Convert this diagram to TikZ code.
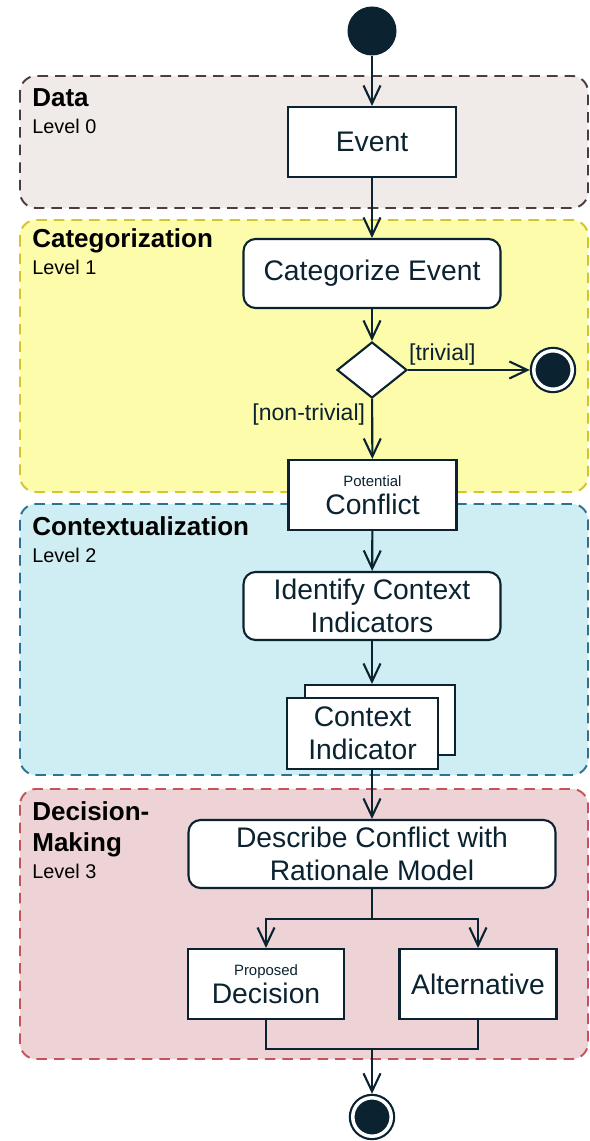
\documentclass[tikz,border=0pt]{standalone}
\usepackage{fontspec}
\setmainfont{Liberation Sans}
\usepackage{tikz}
\usetikzlibrary{arrows.meta,shapes.geometric,positioning}
\definecolor{ink}{HTML}{0B2330}
\definecolor{datab}{HTML}{4D3B3E}
\definecolor{dataf}{HTML}{F0EBE8}
\definecolor{catb}{HTML}{D4C52C}
\definecolor{catf}{HTML}{FCFCAB}
\definecolor{ctxb}{HTML}{2B7391}
\definecolor{ctxf}{HTML}{CFEEF3}
\definecolor{decb}{HTML}{C5535D}
\definecolor{decf}{HTML}{EDD3D5}
\newcommand\bigtxt{\fontsize{16.1pt}{18.7pt}\selectfont}
\newcommand\smalltxt{\fontsize{8.5pt}{10pt}\selectfont}
\newcommand\headtxt{\fontsize{14.8pt}{17.6pt}\selectfont\bfseries}
\newcommand\leveltxt{\fontsize{11.3pt}{13pt}\selectfont}
\newcommand\guardtxt{\fontsize{13.1pt}{15pt}\selectfont}

\begin{document}
\begin{tikzpicture}[x=0.02cm,y=-0.02cm,
  >={Straight Barb[length=3.6mm,width=3.4mm]},
  lane/.style={rounded corners=0.32cm,dash pattern=on 6pt off 4pt,line width=1.1pt},
  lanehead/.style={anchor=base west,inner sep=0,font=\headtxt},
  lanelevel/.style={anchor=base west,inner sep=0,font=\leveltxt},
  box/.style={draw=ink,fill=white,line width=1.2pt,align=center,text=ink,font=\bigtxt,inner sep=2pt,minimum height=1.38cm},
  action/.style={box,rounded corners=0.24cm,minimum width=5.14cm},
  object/.style={box,minimum width=3.36cm},
  flow/.style={draw=ink,line width=1.2pt},
  guard/.style={text=ink,font=\guardtxt,inner sep=2pt},
  endstate/.style={circle,draw=ink,fill=ink,double=white,double distance=2pt,line width=1.25pt,minimum size=0.77cm,inner sep=0,outer sep=2.25pt}]
\useasboundingbox (0,0) rectangle (590,1141);
\fill[white] (0,0) rectangle (590,1141);

\draw[lane,draw=datab,fill=dataf] (20,76) rectangle (588,208);
\draw[lane,draw=catb,fill=catf] (20,220) rectangle (588,492);
\draw[lane,draw=ctxb,fill=ctxf] (20,504) rectangle (588,775);
\draw[lane,draw=decb,fill=decf] (20,789) rectangle (588,1059);

\node[lanehead] (datahead) at (32,107) {Data};
\node[lanelevel] (datalevel) at (32,134) {Level 0};
\node[lanehead] (cathead) at (32,248) {Categorization};
\node[lanelevel] (catlevel) at (32,275) {Level 1};
\node[lanehead] (ctxhead) at (32,535) {Contextualization};
\node[lanelevel] (ctxlevel) at (32,562) {Level 2};
\node[lanehead] (dechead) at (32,820) {Decision-};
\node[lanehead] (dechead2) at (32,851) {Making};
\node[lanelevel] (declevel) at (32,878) {Level 3};

\node[circle,fill=ink,minimum size=0.98cm,inner sep=0] (start) at (372,31) {};
\node[object,minimum height=1.4cm] (event) at (372,142) {Event};
\node[action] (categorize) at (372,273.5) {Categorize Event};
\node[diamond,draw=ink,fill=white,line width=1.2pt,minimum width=1.4cm,minimum height=1.12cm,inner sep=0] (choice) at (372,370) {};
\node[endstate] (end1) at (553,370) {};
\node[object,minimum height=1.4cm] (conflict) at (372.5,495) {{\smalltxt Potential}\\[-2.5pt]Conflict};
\node[action,minimum height=1.36cm] (identify) at (372,606) {Identify Context\\Indicators};
\node[object,minimum width=3.0cm,minimum height=1.4cm] (indback) at (380,720) {};
\node[object,minimum width=3.02cm,minimum height=1.42cm] (indicator) at (362.5,733.5) {Context\\Indicator};
\node[action,minimum width=7.34cm,minimum height=1.36cm] (describe) at (372,854) {Describe Conflict with\\Rationale Model};
\node[object,minimum width=3.12cm,minimum height=1.4cm] (proposed) at (266,984) {{\smalltxt Proposed}\\[-2.5pt]Decision};
\node[object,minimum width=3.14cm,minimum height=1.4cm] (alternative) at (478,984) {Alternative};
\node[endstate] (end2) at (372,1117) {};
\coordinate (fork) at (372,919);
\coordinate (join) at (372,1049);

\draw[flow,->] (start) -- (event);
\draw[flow,->] (event) -- (categorize);
\draw[flow,->] (categorize) -- (choice);
\draw[flow,->] (choice) -- node[guard,above right,pos=0,xshift=-0.07cm]{[trivial]} (end1);
\draw[flow,->] (choice) -- node[guard,below left,pos=0,xshift=-0.05cm]{[non-trivial]} (conflict);
\draw[flow,->] (conflict) -- (identify);
\draw[flow,->] (identify) -- (identify |- indback.north);
\draw[flow,->] (indicator.south -| describe.north) -- (describe.north);
\draw[flow] (describe) -- (fork);
\draw[flow,->] (fork) -| (proposed);
\draw[flow,->] (fork) -| (alternative);
\draw[flow] (proposed) |- (join) -| (alternative);
\draw[flow,->] (join) -- (end2);
\end{tikzpicture}
\end{document}
